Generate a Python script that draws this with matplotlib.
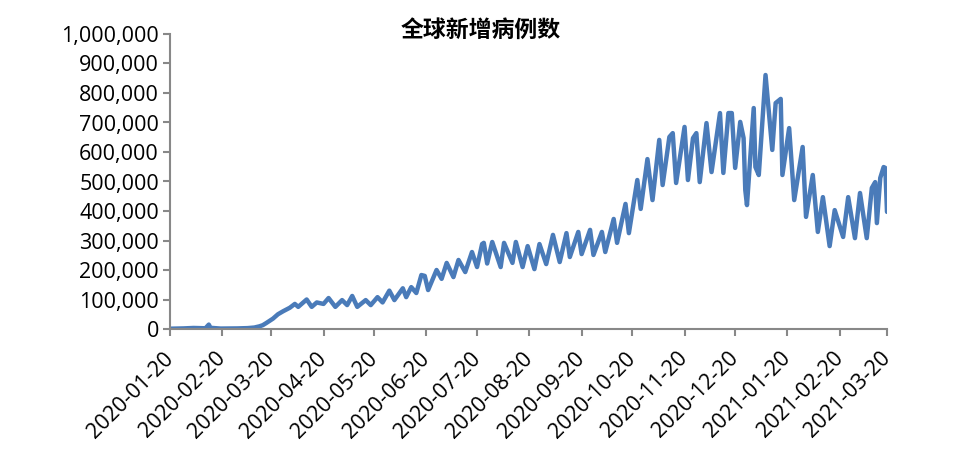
import numpy as np
import pandas as pd
import matplotlib
matplotlib.use("Agg")
import matplotlib.pyplot as plt
from matplotlib.ticker import FuncFormatter, MultipleLocator

plt.rcParams['font.family'] = ['Open Sans', 'Noto Sans CJK SC', 'DejaVu Sans']

title = '全球新增病例数'
start_date = '2020-01-20'
end_date = '2021-03-20'

# days since 2020-01-20, and new cases (thousands)
day_offset = [
    0, 8, 14, 21, 23, 24, 30, 40, 46, 50, 53, 55, 57, 61, 64, 67, 71, 74, 76, 81,
    84, 87, 91, 94, 98, 102, 105, 108, 111, 116, 119, 123, 126, 130, 133, 138, 140, 143, 146, 149,
    151, 153, 158, 161, 164, 168, 171, 175, 179, 182, 185, 186, 188, 191, 196, 198, 203, 205, 209, 212,
    216, 219, 223, 227, 231, 235, 237, 242, 244, 249, 251, 256, 258, 263, 265, 270, 272, 277, 279, 283,
    286, 290, 292, 296, 298, 300, 305, 307, 310, 312, 314, 318, 321, 326, 328, 331, 333, 335, 338, 340,
    341, 342, 346, 347, 349, 353, 357, 359, 362, 363, 367, 370, 375, 377, 381, 384, 387, 391, 394, 399,
    402, 406, 409, 413, 416, 418, 419, 421, 423, 424, 425,
]
new_cases_k = [
    1, 2, 3.5, 2.5, 15, 4, 1.5, 2, 3, 5, 9, 13, 20, 35, 50, 60, 72, 85, 75, 100,
    75, 90, 85, 105, 75, 98, 81, 112, 75, 98, 81, 108, 90, 130, 98, 138, 108, 142, 122, 183,
    180, 132, 200, 170, 224, 176, 234, 193, 261, 210, 288, 292, 222, 295, 210, 292, 224, 295, 210, 281,
    203, 288, 220, 319, 227, 325, 244, 329, 254, 336, 251, 329, 261, 373, 292, 424, 325, 505, 407, 576,
    437, 641, 488, 651, 664, 495, 685, 505, 647, 664, 498, 698, 532, 732, 529, 732, 732, 546, 702, 647,
    471, 420, 749, 549, 522, 861, 607, 766, 780, 522, 681, 437, 617, 380, 522, 329, 447, 281, 403, 312,
    447, 308, 461, 308, 478, 498, 359, 512, 549, 546, 397,
]

tick_dates = ['2020-01-20', '2020-02-20', '2020-03-20', '2020-04-20', '2020-05-20',
              '2020-06-20', '2020-07-20', '2020-08-20', '2020-09-20', '2020-10-20',
              '2020-11-20', '2020-12-20', '2021-01-20', '2021-02-20', '2021-03-20']

dates = pd.Timestamp(start_date) + pd.to_timedelta(day_offset, unit='D')
values = np.array(new_cases_k) * 1000

fig = plt.figure(figsize=(9.62, 4.69), dpi=100)
ax = fig.add_axes([170 / 962, 1 - 329 / 469, 717 / 962, 295 / 469])

ax.plot(dates, values, color='#4a7bb9', linewidth=3.2, solid_joinstyle='round', solid_capstyle='round')

ax.set_xlim(pd.Timestamp(start_date), pd.Timestamp(end_date))
ax.set_ylim(0, 1000000)
ax.yaxis.set_major_locator(MultipleLocator(100000))
ax.yaxis.set_major_formatter(FuncFormatter(lambda v, p: f'{v:,.0f}'))

ax.set_xticks(pd.to_datetime(tick_dates))
ax.set_xticklabels(tick_dates, rotation=45, ha='right', va='center', rotation_mode='anchor')

for s in ['top', 'right']:
    ax.spines[s].set_visible(False)
for s in ['left', 'bottom']:
    ax.spines[s].set_color('#888888')
    ax.spines[s].set_linewidth(1.5)
ax.tick_params(axis='both', colors='#888888', width=1.5, length=5, labelcolor='black', labelsize=15.5)
ax.tick_params(axis='x', pad=14)
ax.tick_params(axis='y', pad=3)

fig.text(0.5, 1 - 30 / 469, title, ha='center', va='center', fontsize=16.5, fontweight='bold',
         family=['Noto Sans CJK SC', 'DejaVu Sans'])

fig.savefig('out.png', dpi=100)
